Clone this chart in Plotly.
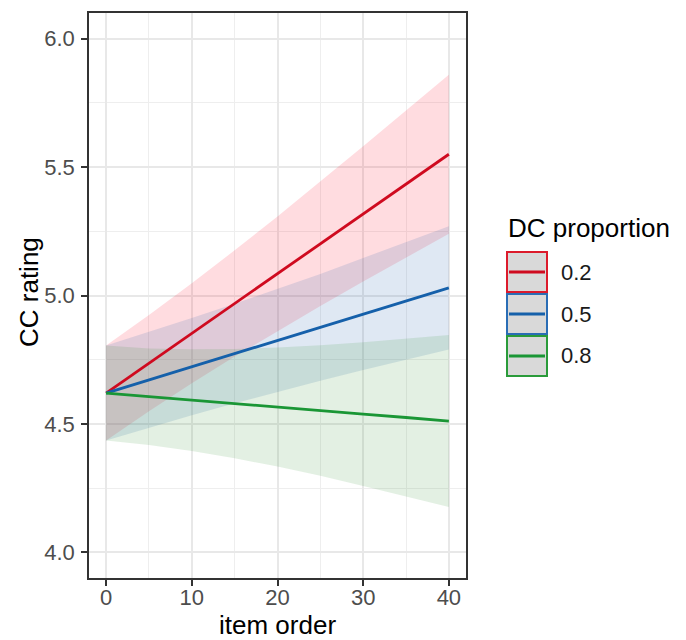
import plotly.graph_objects as go

# ---------------- data ----------------
item_order = [0, 5, 10, 15, 20, 25, 30, 35, 40]
groups = ["0.2", "0.5", "0.8"]

fit_02 = [4.620, 4.736, 4.853, 4.969, 5.085, 5.201, 5.318, 5.434, 5.550]
lo_02 = [4.435, 4.549, 4.658, 4.762, 4.862, 4.959, 5.055, 5.148, 5.240]
hi_02 = [4.805, 4.924, 5.048, 5.176, 5.308, 5.443, 5.581, 5.720, 5.860]

fit_05 = [4.620, 4.671, 4.723, 4.774, 4.825, 4.876, 4.928, 4.979, 5.030]
lo_05 = [4.435, 4.485, 4.534, 4.580, 4.625, 4.668, 4.710, 4.751, 4.790]
hi_05 = [4.805, 4.857, 4.912, 4.968, 5.025, 5.084, 5.146, 5.207, 5.270]

fit_08 = [4.620, 4.606, 4.593, 4.579, 4.566, 4.552, 4.538, 4.525, 4.511]
lo_08 = [4.435, 4.418, 4.395, 4.366, 4.334, 4.298, 4.258, 4.218, 4.176]
hi_08 = [4.805, 4.794, 4.791, 4.792, 4.798, 4.806, 4.818, 4.831, 4.846]

x_ticks = [0, 10, 20, 30, 40]
y_ticks = [4.0, 4.5, 5.0, 5.5, 6.0]
y_tick_labels = ["4.0", "4.5", "5.0", "5.5", "6.0"]

fits = [fit_02, fit_05, fit_08]
lows = [lo_02, lo_05, lo_08]
highs = [hi_02, hi_05, hi_08]

line_colors = ["#CF0A1F", "#1560AA", "#1A9635"]
fill_colors = ["rgba(255,40,60,0.16)", "rgba(40,100,175,0.15)", "rgba(60,150,60,0.14)"]
key_colors = ["#DC1B2C", "#2A6DB5", "#2A9B3A"]

# ---------------- layout geometry (window pixels) ----------------
W, H = 686, 640
PL, PR, PT, PB = 89, 466, 13, 578


def px(xp):
    return (xp - PL) / (PR - PL)


def py(yp):
    return (PB - yp) / (PB - PT)


FONT = "Liberation Sans, Arial, Helvetica, sans-serif"

fig = go.Figure()

# ribbons
for lo, hi, fc in zip(lows, highs, fill_colors):
    fig.add_trace(go.Scatter(
        x=item_order + item_order[::-1],
        y=hi + lo[::-1],
        fill="toself", fillcolor=fc,
        line=dict(width=0), mode="lines",
        hoverinfo="skip", showlegend=False,
    ))

# fitted lines
for g, fit, lc in zip(groups, fits, line_colors):
    fig.add_trace(go.Scatter(
        x=item_order, y=fit, mode="lines",
        line=dict(color=lc, width=2.8),
        name=g, showlegend=False,
    ))

axis_common = dict(
    showline=True, linecolor="#333333", linewidth=1.5, mirror=True,
    ticks="outside", ticklen=6, tickwidth=1.5, tickcolor="#333333",
    showgrid=True, gridcolor="#E8E8E8", gridwidth=2,
    zeroline=False,
    tickfont=dict(family=FONT, size=22, color="#4D4D4D"),
)

fig.update_xaxes(
    range=[-2, 42], tickvals=x_ticks, ticklabelstandoff=-7,
    minor=dict(dtick=5, tick0=0, showgrid=True, gridcolor="#EEEEEE", gridwidth=1.3, ticks=""),
    **axis_common,
)
fig.update_yaxes(
    range=[3.9, 6.1], tickvals=y_ticks, ticktext=y_tick_labels, ticklabelstandoff=2,
    minor=dict(dtick=0.25, tick0=0, showgrid=True, gridcolor="#EEEEEE", gridwidth=1.3, ticks=""),
    **axis_common,
)

shapes = []
annotations = []

# custom legend
key_tops = [252, 294, 336]
key_h = 40
for g, top, kc, lc in zip(groups, key_tops, key_colors, line_colors):
    shapes.append(dict(
        type="rect", xref="paper", yref="paper",
        x0=px(507), x1=px(547), y0=py(top + key_h), y1=py(top),
        fillcolor="#D9D9D9", line=dict(color=kc, width=2),
    ))
    shapes.append(dict(
        type="line", xref="paper", yref="paper",
        x0=px(509), x1=px(545), y0=py(top + key_h / 2), y1=py(top + key_h / 2),
        line=dict(color=lc, width=2.8),
    ))
    annotations.append(dict(
        text=g, xref="paper", yref="paper", x=px(559), y=py(top + key_h / 2),
        xanchor="left", yanchor="middle", showarrow=False,
        font=dict(family=FONT, size=22, color="#1A1A1A"),
    ))

annotations.append(dict(
    text="DC proportion", xref="paper", yref="paper", x=px(506), y=py(228),
    xanchor="left", yanchor="middle", showarrow=False,
    font=dict(family=FONT, size=26, color="#000000"),
))

# axis titles
annotations.append(dict(
    text="item order", xref="paper", yref="paper", x=px(277), y=py(625),
    xanchor="center", yanchor="middle", showarrow=False,
    font=dict(family=FONT, size=26, color="#000000"),
))
annotations.append(dict(
    text="CC rating", xref="paper", yref="paper", x=px(29), y=py(292),
    xanchor="center", yanchor="middle", showarrow=False, textangle=-90,
    font=dict(family=FONT, size=26, color="#000000"),
))

fig.update_layout(
    width=W, height=H,
    margin=dict(l=PL, r=W - PR, t=PT, b=H - PB, pad=0),
    paper_bgcolor="white", plot_bgcolor="white",
    shapes=shapes, annotations=annotations,
    showlegend=False,
)

fig.write_html(
    "out.html",
    config={"displayModeBar": False},
    post_script="document.body.style.margin='0';document.body.style.overflow='hidden';",
)
